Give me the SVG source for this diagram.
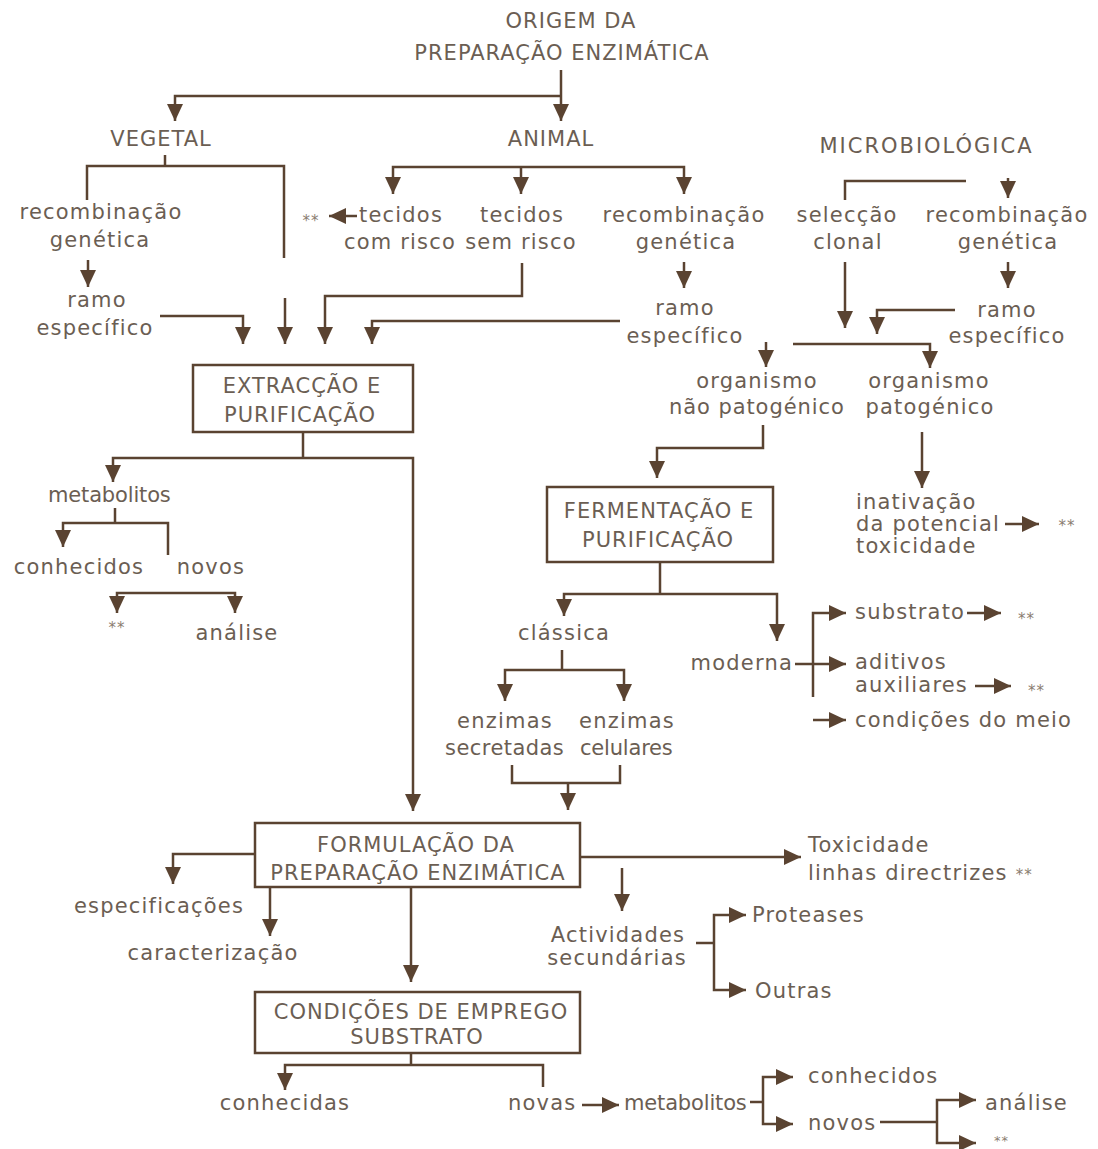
<svg xmlns="http://www.w3.org/2000/svg" width="1098" height="1149" viewBox="0 0 1098 1149">
<style>
text{font-family:"DejaVu Sans","Liberation Sans",sans-serif;fill:#6b5e53}
.l{font-size:21px;letter-spacing:1.2px}
.c{font-size:21px;letter-spacing:1px}
.m{text-anchor:middle}
.s{font-size:15px;letter-spacing:1px;fill:#8a7d70}
.box{fill:#fff;stroke:#5a4331;stroke-width:2.5}
#connectors path{fill:none;stroke:#5a4331;stroke-width:2.5}
#connectors path.a{marker-end:url(#ah)}
</style>
<defs>
<marker id="ah" markerUnits="userSpaceOnUse" markerWidth="20" markerHeight="16" refX="17" refY="8" orient="auto"><path d="M0,0 L17,8 L0,16 z" fill="#5a4331"/></marker>
</defs>
<rect width="1098" height="1149" fill="#fff"/>
<g id="connectors">
<path class="a" d="M561,70 V121"/>
<path class="a" d="M561,96 H175 V121"/>
<path d="M165,155 V166"/>
<path d="M87,200 V166 H284 V258"/>
<path class="a" d="M88,260 V287"/>
<path class="a" d="M160,316 H243 V344"/>
<path class="a" d="M285,298 V344"/>
<path class="a" d="M522,263 V296 H325 V344"/>
<path class="a" d="M620,321 H372 V344"/>
<path class="a" d="M521,167 H393 V194"/>
<path class="a" d="M521,167 H684 V194"/>
<path class="a" d="M521,167 V194"/>
<path class="a" d="M357,216 H329"/>
<path class="a" d="M684,262 V288"/>
<path d="M966,181 H845 V200"/>
<path class="a" d="M1008,178 V198"/>
<path class="a" d="M845,262 V328"/>
<path class="a" d="M1008,262 V288"/>
<path class="a" d="M955,310 H877 V334"/>
<path class="a" d="M793,344 H930 V368"/>
<path class="a" d="M766,342 V367"/>
<path class="a" d="M763,425 V448 H657 V478"/>
<path class="a" d="M922,432 V488"/>
<path class="a" d="M1005,524 H1039"/>
<path d="M660,562 V594"/>
<path class="a" d="M660,594 H564 V616"/>
<path class="a" d="M660,594 H777 V641"/>
<path d="M562,650 V670"/>
<path class="a" d="M562,670 H505 V701"/>
<path class="a" d="M562,670 H624 V701"/>
<path d="M512,765 V783 H620 V765"/>
<path class="a" d="M568,783 V810"/>
<path class="a" d="M795,664 H846"/>
<path class="a" d="M813,697 V613 H846"/>
<path class="a" d="M813,720 H846"/>
<path class="a" d="M967,613 H1001"/>
<path class="a" d="M975,686 H1011"/>
<path d="M303,432 V458"/>
<path class="a" d="M303,458 H113 V482"/>
<path class="a" d="M303,458 H413 V811"/>
<path d="M115,508 V523"/>
<path class="a" d="M115,523 H63 V547"/>
<path d="M115,523 H168 V555"/>
<path class="a" d="M176,593 H117 V613"/>
<path class="a" d="M176,593 H235 V613"/>
<path class="a" d="M255,854 H173 V884"/>
<path class="a" d="M270,887 V936"/>
<path class="a" d="M411,887 V982"/>
<path class="a" d="M580,857 H801"/>
<path class="a" d="M622,868 V911"/>
<path d="M696,943 H714"/>
<path class="a" d="M714,943 V915 H746"/>
<path class="a" d="M714,943 V990 H746"/>
<path d="M411,1053 V1065"/>
<path class="a" d="M411,1065 H285 V1090"/>
<path d="M411,1065 H543 V1087"/>
<path class="a" d="M582,1105 H619"/>
<path d="M750,1102 H763"/>
<path class="a" d="M763,1102 V1077 H793"/>
<path class="a" d="M763,1102 V1124 H793"/>
<path d="M880,1122 H937"/>
<path class="a" d="M937,1122 V1100 H976"/>
<path class="a" d="M937,1122 V1143 H976"/>
</g>
<g id="origem"><text class="c m" x="571" y="28">ORIGEM DA</text><text class="c m" x="562" y="60">PREPARAÇÃO ENZIMÁTICA</text></g>
<g id="vegetal"><text class="c m" x="161" y="146">VEGETAL</text></g>
<g id="animal"><text class="c m" x="551" y="146">ANIMAL</text></g>
<g id="microbiologica"><text class="c m" x="926" y="153" textLength="213">MICROBIOLÓGICA</text></g>
<g id="veg-recomb"><text class="l m" x="101" y="219">recombinação</text><text class="l m" x="100" y="247">genética</text></g>
<g id="veg-ramo"><text class="l m" x="97" y="307">ramo</text><text class="l m" x="95" y="335">específico</text></g>
<g id="tec-com"><text class="l m" x="401" y="222">tecidos</text><text class="l m" x="400" y="249">com risco</text></g>
<g id="tec-com-star"><text class="s m" x="311" y="226">**</text></g>
<g id="tec-sem"><text class="l m" x="522" y="222">tecidos</text><text class="l m" x="521" y="249">sem risco</text></g>
<g id="ani-recomb"><text class="l m" x="684" y="222">recombinação</text><text class="l m" x="686" y="249">genética</text></g>
<g id="ani-ramo"><text class="l m" x="685" y="315">ramo</text><text class="l m" x="685" y="343">específico</text></g>
<g id="seleccao"><text class="l m" x="847" y="222">selecção</text><text class="l m" x="848" y="249">clonal</text></g>
<g id="mic-recomb"><text class="l m" x="1007" y="222">recombinação</text><text class="l m" x="1008" y="249">genética</text></g>
<g id="mic-ramo"><text class="l m" x="1007" y="317">ramo</text><text class="l m" x="1007" y="343">específico</text></g>
<g id="nao-patog"><text class="l m" x="757" y="388">organismo</text><text class="l m" x="757" y="414" textLength="176">não patogénico</text></g>
<g id="patog"><text class="l m" x="929" y="388">organismo</text><text class="l m" x="930" y="414">patogénico</text></g>
<g id="inativacao"><text class="l" x="856" y="509">inativação</text><text class="l" x="856" y="531">da potencial</text><text class="l" x="856" y="553">toxicidade</text></g>
<g id="inativacao-star"><text class="s m" x="1067" y="531">**</text></g>
<g id="fermentacao"><rect class="box" x="547" y="487" width="226" height="75"/><text class="c m" x="659" y="518">FERMENTAÇÃO E</text><text class="c m" x="658" y="547">PURIFICAÇÃO</text></g>
<g id="classica"><text class="l m" x="564" y="640">clássica</text></g>
<g id="moderna"><text class="l" x="793" y="670" text-anchor="end">moderna</text></g>
<g id="secretadas"><text class="l m" x="505" y="728">enzimas</text><text class="l m" x="505" y="755" textLength="120">secretadas</text></g>
<g id="celulares"><text class="l m" x="627" y="728">enzimas</text><text class="l m" x="627" y="755" textLength="94">celulares</text></g>
<g id="substrato"><text class="l" x="855" y="619">substrato</text><text class="s" x="1018" y="624">**</text></g>
<g id="aditivos"><text class="l" x="855" y="669">aditivos</text><text class="l" x="855" y="692">auxiliares</text><text class="s" x="1028" y="696">**</text></g>
<g id="condicoes-meio"><text class="l" x="855" y="727">condições do meio</text></g>
<g id="extraccao"><rect class="box" x="193" y="365" width="220" height="67"/><text class="c m" x="302" y="393">EXTRACÇÃO E</text><text class="c m" x="300" y="422">PURIFICAÇÃO</text></g>
<g id="metabolitos1"><text class="l m" x="110" y="502" textLength="124">metabolitos</text></g>
<g id="conhecidos1"><text class="l m" x="79" y="574">conhecidos</text></g>
<g id="novos1"><text class="l m" x="211" y="574">novos</text></g>
<g id="star1"><text class="s m" x="117" y="633">**</text></g>
<g id="analise1"><text class="l m" x="237" y="640">análise</text></g>
<g id="formulacao"><rect class="box" x="255" y="823" width="325" height="64"/><text class="c m" x="416" y="852">FORMULAÇÃO DA</text><text class="c m" x="418" y="880">PREPARAÇÃO ENZIMÁTICA</text></g>
<g id="especificacoes"><text class="l m" x="159" y="913">especificações</text></g>
<g id="caracterizacao"><text class="l m" x="213" y="960">caracterização</text></g>
<g id="toxicidade"><text class="l" x="808" y="852">Toxicidade</text><text class="l" x="808" y="880">linhas directrizes <tspan class="s">**</tspan></text></g>
<g id="actividades"><text class="l m" x="618" y="942">Actividades</text><text class="l m" x="617" y="965">secundárias</text></g>
<g id="proteases"><text class="l" x="752" y="922">Proteases</text></g>
<g id="outras"><text class="l" x="755" y="998">Outras</text></g>
<g id="condicoes"><rect class="box" x="255" y="992" width="325" height="61"/><text class="c m" x="421" y="1019">CONDIÇÕES DE EMPREGO</text><text class="c m" x="417" y="1044">SUBSTRATO</text></g>
<g id="conhecidas"><text class="l m" x="285" y="1110">conhecidas</text></g>
<g id="novas"><text class="l" x="508" y="1110">novas</text></g>
<g id="metabolitos2"><text class="l" x="624" y="1110" textLength="124">metabolitos</text></g>
<g id="conhecidos2"><text class="l" x="808" y="1083">conhecidos</text></g>
<g id="novos2"><text class="l" x="808" y="1130">novos</text></g>
<g id="analise2"><text class="l" x="985" y="1110">análise</text></g>
<g id="star2"><text class="s" x="994" y="1145" style="font-size:13px">**</text></g>
</svg>
